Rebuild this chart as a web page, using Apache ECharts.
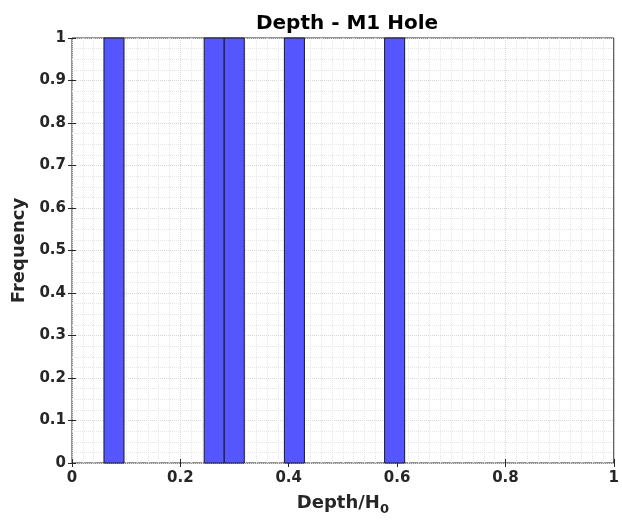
<!DOCTYPE html>
<html><head><meta charset="utf-8">
<script src="https://cdn.jsdelivr.net/npm/echarts@6/dist/echarts.min.js"></script>
<style>html,body{margin:0;padding:0;background:#fff}#c{width:622px;height:526px}</style>
</head><body><div id="c"></div>
<script>
const binStart = [0.059, 0.244, 0.281, 0.392, 0.577];
const binEnd   = [0.096, 0.281, 0.318, 0.429, 0.614];
const frequency = [1, 1, 1, 1, 1];
const xTicks = [0, 0.2, 0.4, 0.6, 0.8, 1];
const yTicks = [0, 0.1, 0.2, 0.3, 0.4, 0.5, 0.6, 0.7, 0.8, 0.9, 1];

const data = binStart.map((s, i) => [s, binEnd[i], frequency[i]]);
const font = '"DejaVu Sans", Arial, sans-serif';
const chart = echarts.init(document.getElementById('c'));
const lbl = {color:'#262626', fontFamily:font, fontWeight:'bold', fontSize:15};
chart.setOption({
  animation:false,
  title:{text:'Depth - M1 Hole', left:342, top:9, textAlign:'center',
    textStyle:{fontFamily:font, fontWeight:'bold', fontSize:20, color:'#000'}},
  grid:{left:72, right:5, top:38, bottom:63, show:true, borderColor:'#262626', borderWidth:1, backgroundColor:'#fff'},
  xAxis:[{type:'value', min:0, max:1, interval:0.2, position:'bottom',
    axisLine:{show:false}, axisTick:{inside:true, length:4, lineStyle:{color:'#262626'}},
    axisLabel:Object.assign({margin:8, formatter:v=>xTicks.includes(+v.toFixed(2))?String(+v.toFixed(2)):''}, lbl),
    splitLine:{show:true, lineStyle:{color:'#d6d6d6', type:'dotted'}},
    minorTick:{show:true, splitNumber:10, length:0},
    minorSplitLine:{show:true, lineStyle:{color:'#e6e6e6', type:'dotted'}},
    name:'Depth/H{s|0}', nameLocation:'middle', nameGap:28,
    nameTextStyle:{color:'#262626', fontFamily:font, fontWeight:'bold', fontSize:18,
      rich:{s:{fontFamily:font, fontWeight:'bold', fontSize:13, color:'#262626', verticalAlign:'bottom', padding:[12,0,0,0]}}}},
   {type:'value', min:0, max:1, interval:0.2, position:'top',
    axisLine:{show:false}, axisTick:{inside:true, length:4, lineStyle:{color:'#262626'}},
    axisLabel:{show:false}, splitLine:{show:false}}],
  yAxis:[{type:'value', min:0, max:1, interval:0.1, position:'left',
    axisLine:{show:false}, axisTick:{inside:true, length:4, lineStyle:{color:'#262626'}},
    axisLabel:Object.assign({margin:6, formatter:v=>String(+v.toFixed(1))}, lbl),
    splitLine:{show:true, lineStyle:{color:'#d6d6d6', type:'dotted'}},
    minorTick:{show:true, splitNumber:4, length:0},
    minorSplitLine:{show:true, lineStyle:{color:'#e6e6e6', type:'dotted'}},
    name:'Frequency', nameLocation:'middle', nameGap:42, nameRotate:90,
    nameTextStyle:{color:'#262626', fontFamily:font, fontWeight:'bold', fontSize:18}},
   {type:'value', min:0, max:1, interval:0.1, position:'right',
    axisLine:{show:false}, axisTick:{inside:true, length:4, lineStyle:{color:'#262626'}},
    axisLabel:{show:false}, splitLine:{show:false}}],
  series:[{type:'custom', xAxisIndex:0, yAxisIndex:0, data:data,
    encode:{x:[0,1], y:2},
    renderItem:function(params, api){
      const p0 = api.coord([api.value(0), api.value(2)]);
      const p1 = api.coord([api.value(1), 0]);
      return {type:'rect', shape:{x:p0[0], y:p0[1], width:p1[0]-p0[0], height:p1[1]-p0[1]},
        style:{fill:'#5656ff', stroke:'#1a1a1a', lineWidth:1}};
    }}]
});
</script></body></html>
